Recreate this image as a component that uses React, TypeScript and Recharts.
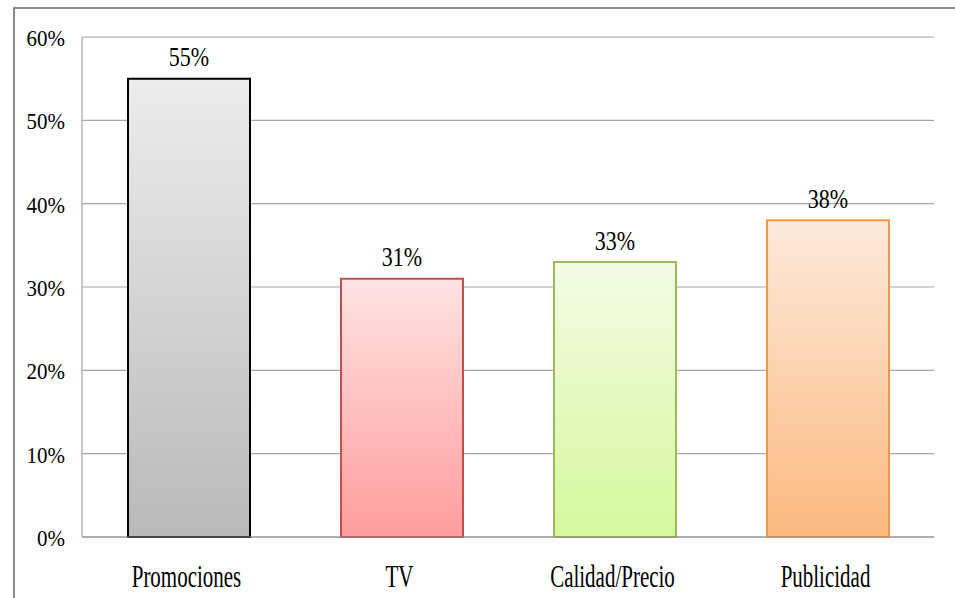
import { BarChart, Bar, XAxis, YAxis, CartesianGrid, Cell, LabelList } from 'recharts';

const categories = ['Promociones', 'TV', 'Calidad/Precio', 'Publicidad'];
const values = [55, 31, 33, 38];
const yTicks = [0, 10, 20, 30, 40, 50, 60];

const FILL_TOP = ['#ececec', '#ffe3e3', '#f2fce4', '#fdeadb'];
const FILL_BOTTOM = ['#b9b9b9', '#ff9c9c', '#d6f79d', '#fbb97f'];
const STROKES = ['#000000', '#c0504d', '#9bbb59', '#f79646'];

const FONT = 'Liberation Serif';

const data = categories.map((name, i) => ({ name, value: values[i] }));

// the source text is stretched vertically, so each label gets a scaleY
function YTick(props: any) {
  const { x, y, payload } = props;
  return (
    <text
      transform={`translate(${x},${y + 9}) scale(1,1.1)`}
      textAnchor="end"
      fontFamily={FONT}
      fontSize={21}
      fill="#000"
    >
      {payload.value}%
    </text>
  );
}

function XTick(props: any) {
  const { x, y, payload } = props;
  return (
    <text
      transform={`translate(${x - 2},${y + 42}) scale(1,1.5)`}
      textAnchor="middle"
      fontFamily={FONT}
      fontSize={21}
      fill="#000"
    >
      {payload.value}
    </text>
  );
}

function ValueLabel(props: any) {
  const { x, y, width, value } = props;
  return (
    <text
      transform={`translate(${x + width / 2},${y - 12.5}) scale(1,1.25)`}
      textAnchor="middle"
      fontFamily={FONT}
      fontSize={22}
      fill="#000"
    >
      {value}%
    </text>
  );
}

export default function App() {
  return (
    <div style={{ position: 'absolute', left: 0, top: 0, width: 955, height: 598, background: '#fff', overflow: 'hidden' }}>
      <div
        style={{
          position: 'absolute',
          left: 13,
          top: 7,
          width: 1000,
          height: 700,
          borderLeft: '2px solid #8a8a8a',
          borderTop: '2px solid #8a8a8a',
        }}
      />
      <div style={{ position: 'absolute', left: 0, top: 0 }}>
        <BarChart
          width={955}
          height={598}
          data={data}
          margin={{ top: 37, right: 21, bottom: 21, left: 0 }}
          barSize={122}
        >
          <defs>
            {categories.map((c, i) => (
              <linearGradient key={c} id={`grad${i}`} x1="0" y1="0" x2="0" y2="1">
                <stop offset="0%" stopColor={FILL_TOP[i]} />
                <stop offset="100%" stopColor={FILL_BOTTOM[i]} />
              </linearGradient>
            ))}
          </defs>
          <CartesianGrid vertical={false} stroke="#a6a6a6" strokeWidth={1.2} />
          <XAxis
            dataKey="name"
            height={40}
            tickLine={false}
            axisLine={{ stroke: '#8c8c8c', strokeWidth: 1.2 }}
            tick={<XTick />}
            interval={0}
          />
          <YAxis
            width={82}
            domain={[0, 60]}
            ticks={yTicks}
            tickLine={false}
            tickSize={0}
            tickMargin={17}
            axisLine={{ stroke: '#a6a6a6', strokeWidth: 1.2 }}
            tick={<YTick />}
          />
          <Bar dataKey="value" isAnimationActive={false} strokeWidth={2}>
            {data.map((d, i) => (
              <Cell key={d.name} fill={`url(#grad${i})`} stroke={STROKES[i]} />
            ))}
            <LabelList dataKey="value" content={<ValueLabel />} />
          </Bar>
        </BarChart>
      </div>
    </div>
  );
}
